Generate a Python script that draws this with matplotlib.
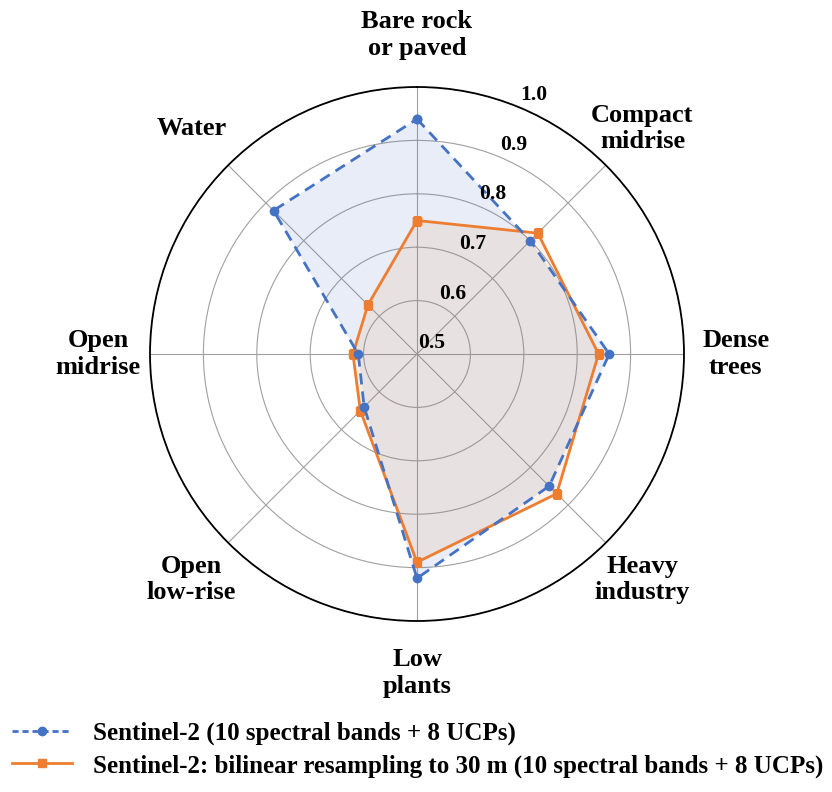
import numpy as np
import matplotlib
matplotlib.use("Agg")
import matplotlib.pyplot as plt
from matplotlib.lines import Line2D

categories = ['Bare rock\nor paved', 'Compact\nmidrise', 'Dense\ntrees', 'Heavy\nindustry',
              'Low\nplants', 'Open\nlow-rise', 'Open\nmidrise', 'Water']
s2_10m = [0.94, 0.80, 0.86, 0.85, 0.92, 0.64, 0.61, 0.88]
s2_30m = [0.75, 0.82, 0.84, 0.87, 0.89, 0.65, 0.62, 0.63]
ring_labels = [0.5, 0.6, 0.7, 0.8, 0.9, 1.0]
series_names = ['Sentinel-2 (10 spectral bands + 8 UCPs)',
                'Sentinel-2: bilinear resampling to 30 m (10 spectral bands + 8 UCPs)']

BLUE = '#4472C4'
ORANGE = '#ED7D31'
plt.rcParams['font.family'] = ['Liberation Serif', 'DejaVu Serif']
plt.rcParams['font.weight'] = 'bold'

fig = plt.figure(figsize=(8.32, 7.92), dpi=100)
ax = fig.add_axes([150/832, 171/792, 534/832, 534/792], projection='polar')
ax.set_theta_zero_location('N')
ax.set_theta_direction(-1)

n = len(categories)
angles = np.linspace(0, 2*np.pi, n, endpoint=False)
ang_c = np.concatenate([angles, angles[:1]])
v1 = np.concatenate([s2_10m, s2_10m[:1]])
v2 = np.concatenate([s2_30m, s2_30m[:1]])

ax.fill(ang_c, v1, color=BLUE, alpha=0.12, lw=0, zorder=2)
ax.fill(ang_c, v2, color=ORANGE, alpha=0.10, lw=0, zorder=2)
ax.plot(ang_c, v1, color=BLUE, lw=2.0, ls=(0, (4, 2.5)), marker='o', ms=6, zorder=4)
ax.plot(ang_c, v2, color=ORANGE, lw=2.0, ls='-', marker='s', ms=5.5, zorder=3)

ax.set_ylim(0.5, 1.0)
ax.set_rgrids([0.6, 0.7, 0.8, 0.9, 1.0], labels=['']*5)
ax.set_thetagrids(np.degrees(angles), labels=['']*n)
ax.grid(True, color='#a0a0a0', lw=0.8)
ax.spines['polar'].set_color('black')
ax.spines['polar'].set_linewidth(1.3)

# category labels
for a, lab in zip(angles, categories):
    ax.text(a, 1.097, lab, ha='center', va='center', fontsize=19, fontweight='bold',
            linespacing=1.2, clip_on=False)

# ring labels
R = 267.0
for v in ring_labels:
    rpx = (v - 0.5) / 0.5 * R
    dx = 14.7 + 0.384 * rpx
    dy = 10.7 - 0.07 * rpx
    ax.annotate(f'{v:.1f}', xy=(0, v), xytext=(dx, dy), textcoords='offset pixels',
                ha='center', va='center', fontsize=15.5, fontweight='bold', zorder=6,
                annotation_clip=False)

handles = [Line2D([], [], color=BLUE, lw=2.0, ls=(0, (2.2, 1.4)), marker='o', ms=6, markevery=[1]),
           Line2D([], [], color=ORANGE, lw=2.0, ls='-', marker='s', ms=5.5, markevery=[1])]
for h in handles:
    h.set_xdata([0, 0.5, 1]); h.set_ydata([0, 0, 0])
fig.legend(handles, series_names, loc='upper left', bbox_to_anchor=(12/832, 1 - 722/792),
           frameon=False, fontsize=18, handlelength=2.4, handletextpad=0.85,
           labelspacing=0.35, borderpad=0, borderaxespad=0,
           prop={'weight': 'bold', 'size': 18})

fig.savefig('out.png', dpi=100)
